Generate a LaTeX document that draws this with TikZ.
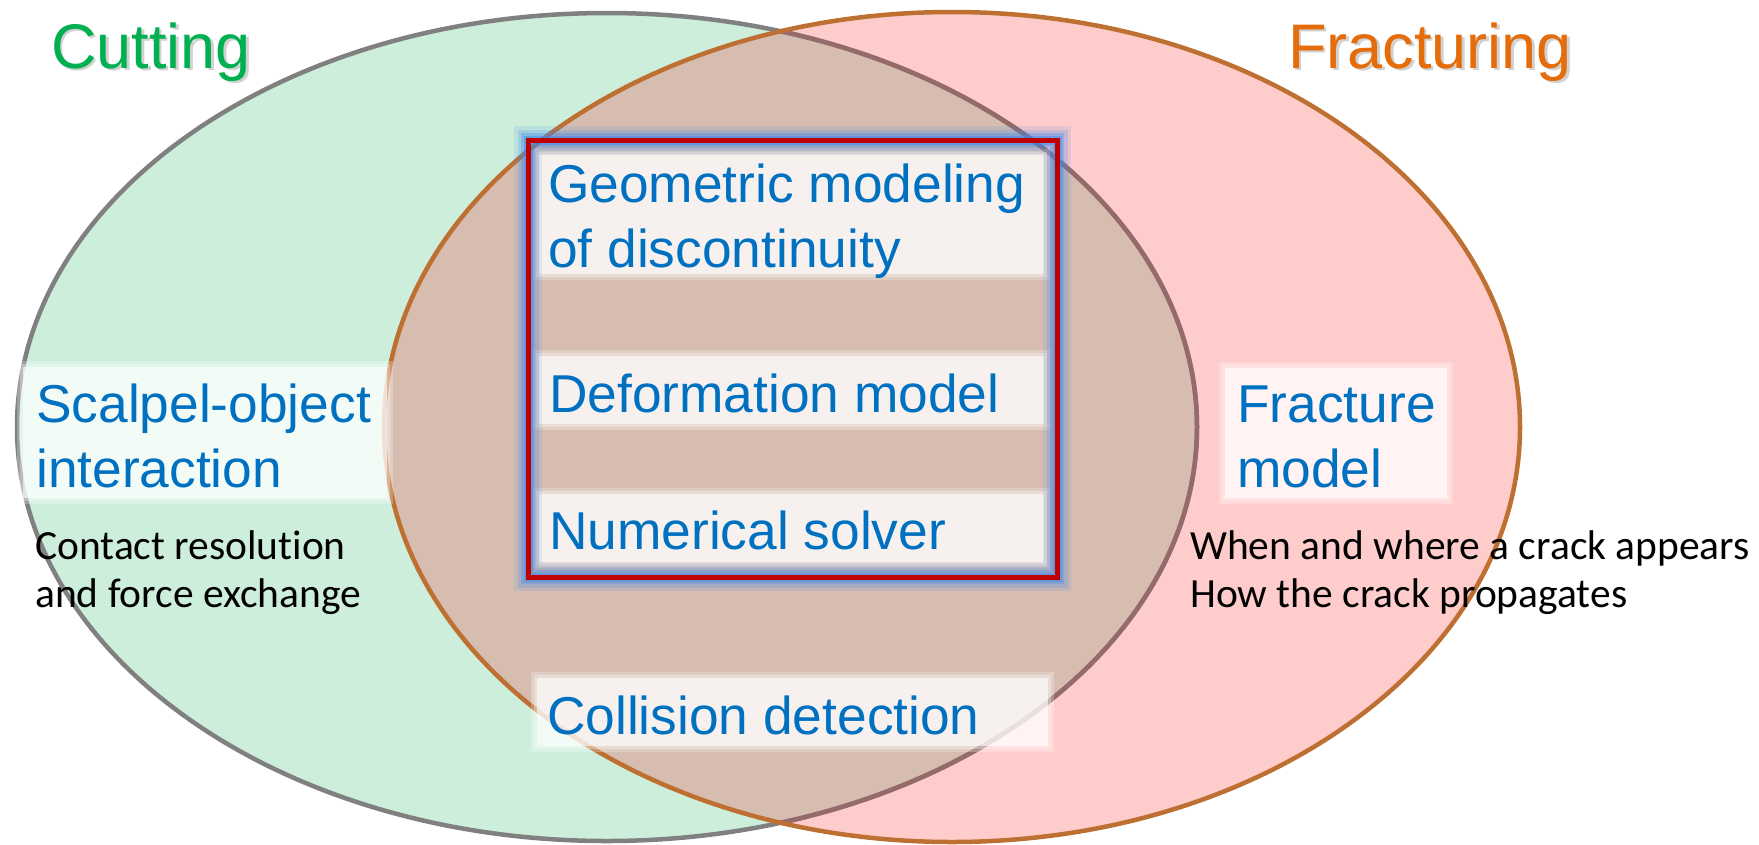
\documentclass[tikz,border=0pt]{standalone}
\usepackage{fontspec}
\setmainfont{Liberation Sans}
\newfontfamily\calfont[Ligatures=NoCommon]{Carlito}
\definecolor{cutfill}{RGB}{204,238,219}
\definecolor{fracfill}{RGB}{255,204,204}
\definecolor{bothfill}{RGB}{214,189,175}
\definecolor{cutline}{RGB}{128,128,128}
\definecolor{fracline}{RGB}{190,112,50}
\definecolor{mauveline}{RGB}{150,106,106}
\definecolor{txtblue}{RGB}{0,112,192}
\definecolor{cutgreen}{RGB}{0,176,80}
\definecolor{fracorange}{RGB}{228,108,10}
\definecolor{glowblue}{RGB}{60,135,235}
\definecolor{boxred}{RGB}{192,0,0}
\newcommand\softbox[4]{%
  \fill[white,opacity=.25] (#1-3,#2-3) rectangle (#3+3,#4+3);
  \fill[white,opacity=.3] (#1,#2) rectangle (#3,#4);
  \fill[white,opacity=.6] (#1+3,#2+3) rectangle (#3-3,#4-3);
}
\tikzset{
  bluetext/.style={text=txtblue, font=\fontsize{53.3}{65}\selectfont, inner sep=0pt, anchor=base west},
  notetext/.style={text=black, font=\calfont\fontsize{41.5}{48}\selectfont, inner sep=0pt, anchor=base west},
  titletext/.style={font=\fontsize{63}{75}\selectfont, inner sep=0pt, anchor=base west},
  shadowtext/.style={titletext, text=black, opacity=.18},
  glow/.style={draw=glowblue, line join=miter},
}
\begin{document}
\begin{tikzpicture}[x=1pt,y=-1pt]
\useasboundingbox (0,0) rectangle (1759,844);
% fills
\fill[cutfill] (607,427) ellipse [x radius=590, y radius=414];
\fill[fracfill] (952,427) ellipse [x radius=568, y radius=415];
\begin{scope}
  \clip (607,427) ellipse [x radius=590, y radius=414];
  \fill[bothfill] (952,427) ellipse [x radius=568, y radius=415];
\end{scope}
% borders
\draw[cutline, line width=4.5pt] (607,427) ellipse [x radius=590, y radius=414];
\begin{scope}
  \clip (952,427) ellipse [x radius=568, y radius=415];
  \draw[mauveline, line width=4.5pt] (607,427) ellipse [x radius=590, y radius=414];
\end{scope}
\draw[fracline, line width=4.5pt] (952,427) ellipse [x radius=568, y radius=415];
% soft white label boxes
\softbox{20}{364}{390}{501}
\softbox{1222}{365}{1450}{501}
\softbox{536}{152}{1047}{277}
\softbox{536}{353}{1047}{427}
\softbox{536}{491}{1047}{565}
\softbox{534}{675}{1051}{749}
% glowing red frame
\draw[glow, line width=28pt, opacity=.12] (528,140) rectangle (1057,577);
\draw[glow, line width=21pt, opacity=.2] (528,140) rectangle (1057,577);
\draw[glow, line width=14pt, opacity=.3] (528,140) rectangle (1057,577);
\draw[glow, line width=9pt, opacity=.45] (528,140) rectangle (1057,577);
\draw[boxred, line width=5pt, line join=miter] (528,140) rectangle (1057,577);
% titles
\node[shadowtext] (cutshadow) at (53.5,70.5) {Cutting};
\node[titletext, text=cutgreen] (cut) at (51,68) {Cutting};
\node[shadowtext] (fracshadow) at (1290.5,70.5) {Fracturing};
\node[titletext, text=fracorange] (frac) at (1288,68) {Fracturing};
% blue labels
\node[bluetext] (geom) at (548,202) {\begin{tabular}[t]{@{}l@{}}Geometric modeling\\of discontinuity\end{tabular}};
\node[bluetext] (deform) at (549,412) {Deformation model};
\node[bluetext] (numer) at (549,549) {Numerical solver};
\node[bluetext] (coll) at (547,734) {Collision detection};
\node[bluetext] (scalpel) at (36,422) {\begin{tabular}[t]{@{}l@{}}Scalpel-object\\interaction\end{tabular}};
\node[bluetext] (fracmodel) at (1237,422) {\begin{tabular}[t]{@{}l@{}}Fracture\\model\end{tabular}};
% black notes
\node[notetext] (contact) at (35,559) {\begin{tabular}[t]{@{}l@{}}Contact resolution\\and force exchange\end{tabular}};
\node[notetext] (crack) at (1190,559) {\begin{tabular}[t]{@{}l@{}}When and where a crack appears\\How the crack propagates\end{tabular}};
\end{tikzpicture}
\end{document}
